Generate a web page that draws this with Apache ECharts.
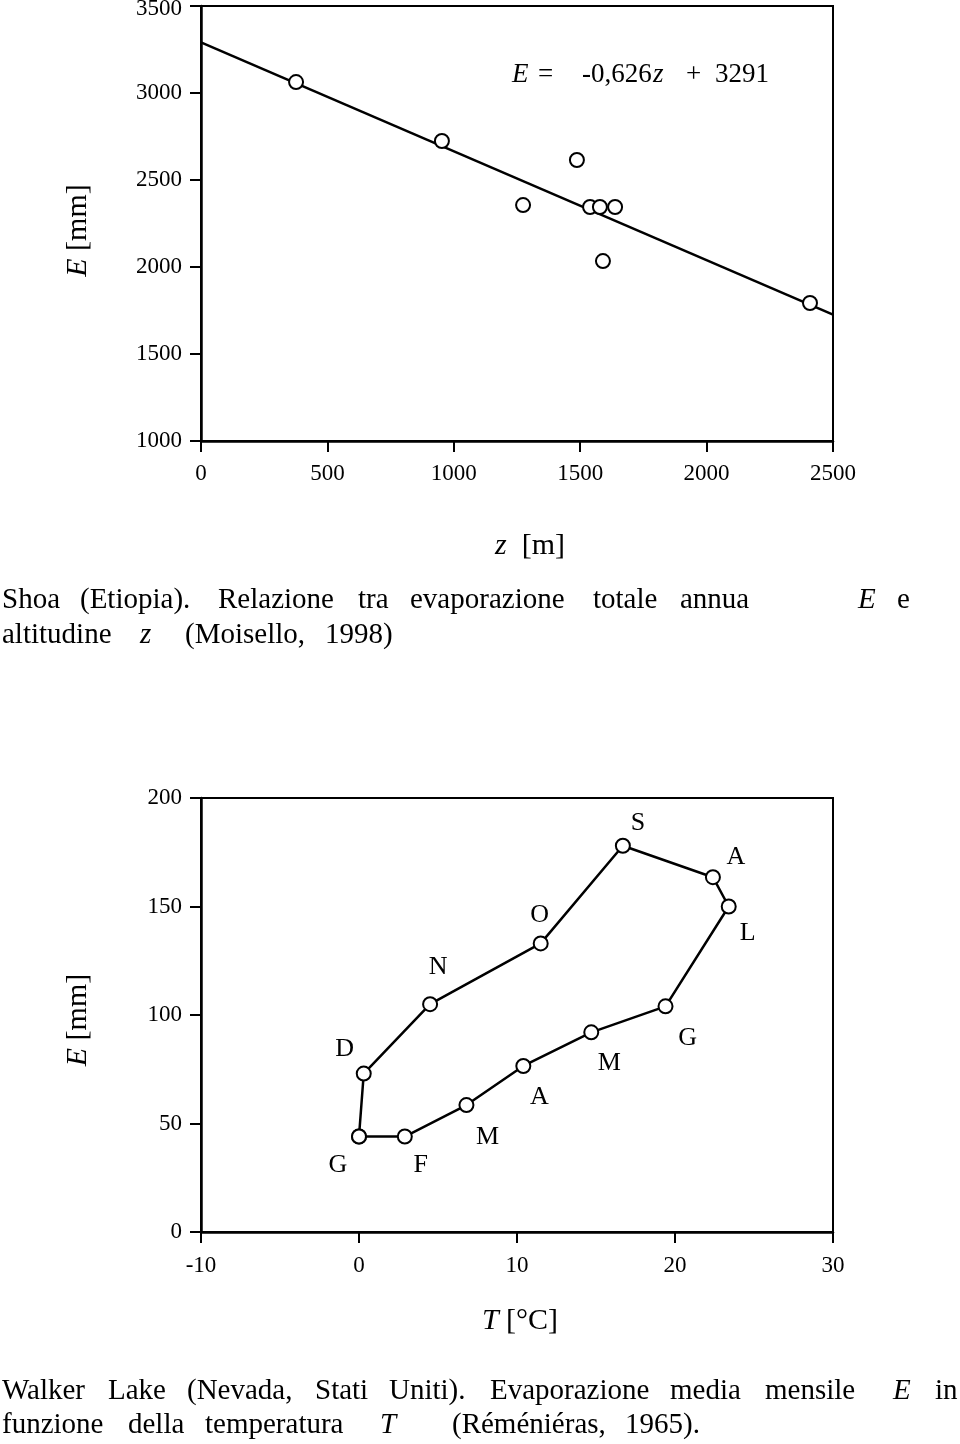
<!DOCTYPE html>
<html>
<head>
<meta charset="utf-8">
<script src="https://cdn.jsdelivr.net/npm/echarts@6/dist/echarts.min.js"></script>
<style>
html,body{margin:0;padding:0;background:#fff;}
#chart{width:960px;height:1444px;}
</style>
</head>
<body>
<div id="chart"></div>
<script>
// ---- Data: Shoa (Etiopia) ----
const zAltitude = [376, 953, 1274, 1487, 1539, 1578, 1638, 1590, 2409];
const eAnnual   = [3063, 2724, 2356, 2615, 2345, 2345, 2345, 2034, 1793];
const regZ = [0, 2500];
const regE = [3291, 1726];
const topXTicks = [0, 500, 1000, 1500, 2000, 2500];
const topYTicks = [1000, 1500, 2000, 2500, 3000, 3500];

// ---- Data: Walker Lake (monthly) ----
const months   = ['G', 'F', 'M', 'A', 'M', 'G', 'L', 'A', 'S', 'O', 'N', 'D'];
const tMonthly = [0, 2.9, 6.8, 10.4, 14.7, 19.4, 23.4, 22.4, 16.7, 11.5, 4.5, 0.3];
const eMonthly = [44, 44, 58.5, 76.5, 92, 104, 150, 163.5, 178, 133, 105, 73];
const botXTicks = [-10, 0, 10, 20, 30];
const botYTicks = [0, 50, 100, 150, 200];

// ---- Styles (label placement around the points) ----
const labelOffsets = [[-21,29],[16,29],[21,32],[16,31],[18,31],[22,32],[19,27],[23,-20],[15,-23],[-1,-28],[8,-37],[-19,-24]];

const FONT = 'Liberation Serif';
const chart = echarts.init(document.getElementById('chart'), null, {renderer:'canvas'});

const scatterData = zAltitude.map((z, i) => [z, eAnnual[i]]);
const regData = regZ.map((z, i) => [z, regE[i]]);

const loopData = [];
for (let i = 0; i <= months.length; i++) {
  const k = i % months.length;
  const item = { value: [tMonthly[k], eMonthly[k]], name: months[k] };
  if (i === months.length) item.label = { show: false };
  loopData.push(item);
}

function axisCommon(min, max, interval, margin) {
  return {
    type: 'value', min: min, max: max, interval: interval,
    axisLine: { show: true, onZero: false, lineStyle: { color: '#000', width: 2.5 } },
    axisTick: { show: true, length: 11, inside: false, lineStyle: { color: '#000', width: 2 } },
    axisLabel: { show: true, margin: margin, color: '#000', fontFamily: FONT, fontSize: 23,
      showMinLabel: true, showMaxLabel: true, formatter: v => String(v) },
    splitLine: { show: false }
  };
}

const richName = {
  i: { fontFamily: FONT, fontStyle: 'italic', fontSize: 30, color: '#000' },
  n: { fontFamily: FONT, fontSize: 30, color: '#000' }
};

function txt(x, y, s, italic, size) {
  return { type: 'text', x: x, y: y, style: {
    text: s, fill: '#000',
    font: (italic ? 'italic ' : '') + (size || 29) + 'px "' + FONT + '"',
    align: 'left', verticalAlign: 'middle' } };
}

const graphics = [
  // equation
  txt(512, 75, 'E', true, 27), txt(538, 75, '=', false, 27),
  txt(582, 75, '-0,626', false, 27), txt(653, 75, 'z', true, 27),
  txt(686, 75, '+', false, 27), txt(715, 75, '3291', false, 27),
  // caption 1
  txt(2, 600, 'Shoa'), txt(80, 600, '(Etiopia).'), txt(218, 600, 'Relazione'),
  txt(358, 600, 'tra'), txt(410, 600, 'evaporazione'), txt(593, 600, 'totale'),
  txt(680, 600, 'annua'), txt(858, 600, 'E', true), txt(897, 600, 'e'),
  txt(2, 635, 'altitudine'), txt(140, 635, 'z', true), txt(185, 635, '(Moisello,'),
  txt(325, 635, '1998)'),
  // caption 2
  txt(2, 1391, 'Walker'), txt(108, 1391, 'Lake'), txt(187, 1391, '(Nevada,'),
  txt(315, 1391, 'Stati'), txt(389, 1391, 'Uniti).'), txt(490, 1391, 'Evaporazione'),
  txt(670, 1391, 'media'), txt(765, 1391, 'mensile'), txt(893, 1391, 'E', true),
  txt(935, 1391, 'in'),
  txt(2, 1425, 'funzione'), txt(128, 1425, 'della'), txt(205, 1425, 'temperatura'),
  txt(380, 1425, 'T', true), txt(452, 1425, '(Réméniéras,'), txt(625, 1425, '1965).')
];

const topY = axisCommon(1000, 3500, 500, 19);
topY.axisLabel.formatter = v => (v === 3500 ? '{t|' + v + '}' : String(v));
topY.axisLabel.rich = { t: { fontFamily: FONT, fontSize: 23, color: '#000', padding: [5, 0, 0, 0] } };

const option = {
  backgroundColor: '#fff',
  animation: false,
  grid: [
    { left: 201, top: 6, width: 632, height: 435, show: true, borderColor: '#000', borderWidth: 2,
      backgroundColor: 'transparent', containLabel: false, outerBoundsMode: 'none' },
    { left: 201, top: 798, width: 632, height: 434, show: true, borderColor: '#000', borderWidth: 2,
      backgroundColor: 'transparent', containLabel: false, outerBoundsMode: 'none' }
  ],
  xAxis: [
    Object.assign(axisCommon(0, 2500, 500, 21), { gridIndex: 0,
      name: '{i|z}{n|  [m]}', nameLocation: 'middle', nameGap: 90,
      nameTextStyle: { rich: richName, padding: [0, 0, 0, 26] } }),
    Object.assign(axisCommon(-10, 30, 10, 22), { gridIndex: 1,
      name: '{i|T}{n| [°C]}', nameLocation: 'middle', nameGap: 74,
      nameTextStyle: { rich: richName, padding: [0, 0, 0, 6] } })
  ],
  yAxis: [
    Object.assign(topY, { gridIndex: 0,
      name: '{i|E}{n| [mm]}', nameLocation: 'middle', nameGap: 108, nameRotate: 90,
      nameTextStyle: { rich: richName, padding: [0, 14, 0, 0] } }),
    Object.assign(axisCommon(0, 200, 50, 19), { gridIndex: 1,
      name: '{i|E}{n| [mm]}', nameLocation: 'middle', nameGap: 108, nameRotate: 90,
      nameTextStyle: { rich: richName, padding: [0, 10, 0, 0] } })
  ],
  graphic: graphics,
  series: [
    { type: 'line', xAxisIndex: 0, yAxisIndex: 0, data: regData, showSymbol: false,
      symbol: 'none', lineStyle: { color: '#000', width: 2.5 }, silent: true, z: 2 },
    { type: 'scatter', xAxisIndex: 0, yAxisIndex: 0, data: scatterData, symbol: 'circle',
      symbolSize: 14, itemStyle: { color: '#fff', borderColor: '#000', borderWidth: 2, opacity: 1 }, z: 3 },
    { type: 'line', xAxisIndex: 1, yAxisIndex: 1, data: loopData, symbol: 'circle',
      symbolSize: 14, showSymbol: true, showAllSymbol: true,
      itemStyle: { color: '#fff', borderColor: '#000', borderWidth: 2 },
      lineStyle: { color: '#000', width: 2.5 },
      label: { show: true, position: 'inside', formatter: p => p.name,
        color: '#000', fontFamily: FONT, fontSize: 26 },
      labelLayout: function (params) {
        const off = labelOffsets[params.dataIndex % labelOffsets.length];
        return { dx: off[0], dy: off[1], hideOverlap: false };
      }, z: 3 }
  ]
};
chart.setOption(option);
</script>
</body>
</html>
